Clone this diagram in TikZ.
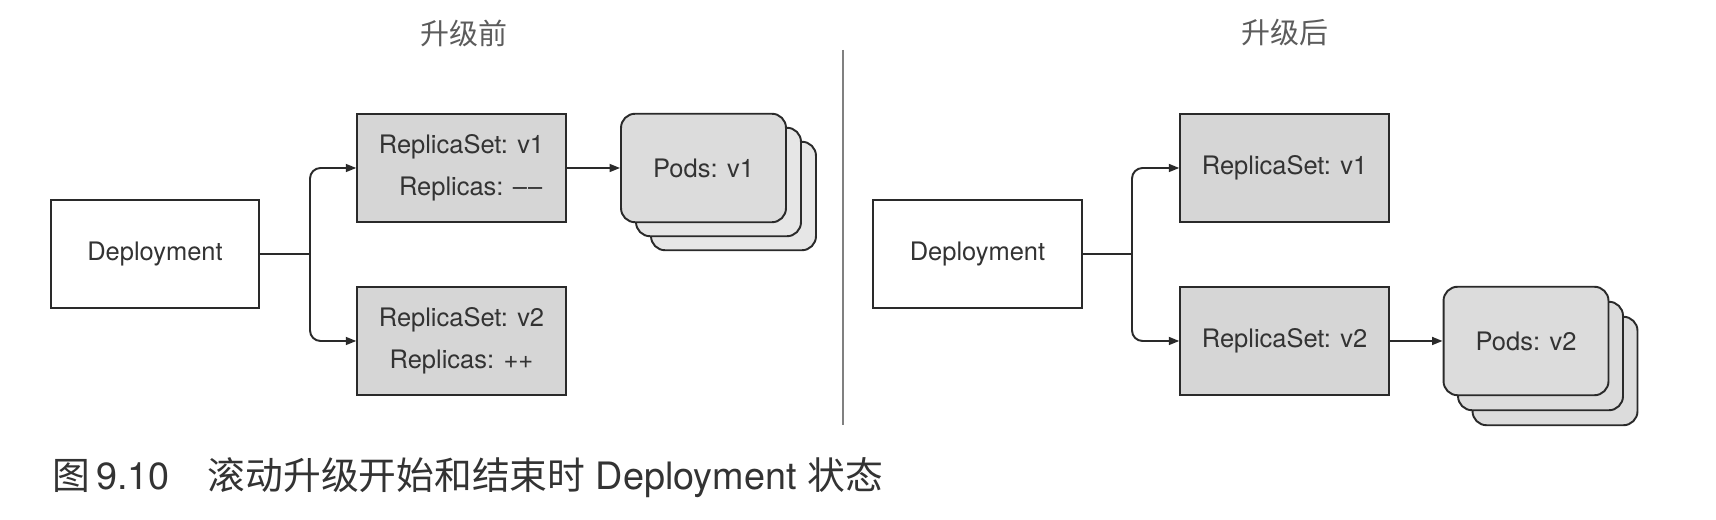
\documentclass[tikz,border=0pt]{standalone}
\usepackage{fontspec}
\setmainfont{TeX Gyre Heros}
\newfontfamily\cjk{Noto Sans CJK SC}
\usetikzlibrary{arrows.meta}
\definecolor{edge}{HTML}{2A2A2A}
\definecolor{ink}{HTML}{333333}
\definecolor{boxgray}{HTML}{D6D6D6}
\definecolor{podgray}{HTML}{DCDCDC}
\definecolor{podpale}{HTML}{E6E6E6}

\begin{document}
\begin{tikzpicture}[x=0.02cm, y=0.02cm,
        box/.style={draw=edge, line width=1.1pt, fill=white, minimum width=4.17cm, minimum height=2.17cm,
            inner sep=0pt, align=center, text=ink, font=\fontsize{14.5}{24}\selectfont},
        rs/.style={box, fill=boxgray},
        pod/.style={box, fill=podgray, rounded corners=8pt, minimum width=3.3cm},
        line/.style={draw=edge, line width=1.1pt},
        link/.style={line, -{Triangle[length=6pt, width=4.5pt]}},
        title/.style={text=ink!80, font=\cjk\fontsize{16.5}{20}\selectfont}]
    \useasboundingbox (0, 0) rectangle (1716, 520);

    \node[title] (beforeT) at (464, 487) {升级前};
    \node[title] (afterT) at (1285, 487) {升级后};
    \draw[draw=gray, line width=0.8pt] (843, 470) -- (843, 95);

    % before upgrade
    \node[box] (depL) at (155, 266) {Deployment};
    \node[rs] (rs1L) at (461.5, 352) {ReplicaSet: v1\\\hphantom{R}Replicas: {\textendash}\kern0.6pt{\textendash}};
    \node[rs] (rs2L) at (461.5, 179) {ReplicaSet: v2\\Replicas: ++};
    \node[pod, fill=podpale] (podsL3) at (733.5, 324) {};
    \node[pod, fill=podpale] (podsL2) at (718.5, 338) {};
    \node[pod] (podsL) at (703.5, 352) {Pods: v1};
    \coordinate (jL) at (310, 266);

    \draw[line] (depL.east) -- (jL);
    \draw[link, rounded corners=6pt] (jL) |- (rs1L.west);
    \draw[link, rounded corners=6pt] (jL) |- (rs2L.west);
    \draw[link] (rs1L.east) -- (podsL.west);

    % after upgrade
    \node[box] (depR) at (977.5, 266) {Deployment};
    \node[rs] (rs1R) at (1284.5, 352) {ReplicaSet: v1};
    \node[rs] (rs2R) at (1284.5, 179) {ReplicaSet: v2};
    \node[pod] (podsR3) at (1555, 149) {};
    \node[pod] (podsR2) at (1540.5, 164) {};
    \node[pod] (podsR) at (1526, 179) {Pods: v2};
    \coordinate (jR) at (1132, 266);

    \draw[line] (depR.east) -- (jR);
    \draw[link, rounded corners=6pt] (jR) |- (rs1R.west);
    \draw[link, rounded corners=6pt] (jR) |- (rs2R.west);
    \draw[link] (rs2R.east) -- (podsR.west);

    \node[anchor=west, text=ink, font=\fontsize{21.5}{24}\selectfont, inner sep=0pt] (caption) at (52, 42)
        {{\cjk 图}\,9.10\quad{\cjk 滚动升级开始和结束时} Deployment {\cjk 状态}};
\end{tikzpicture}
\end{document}
